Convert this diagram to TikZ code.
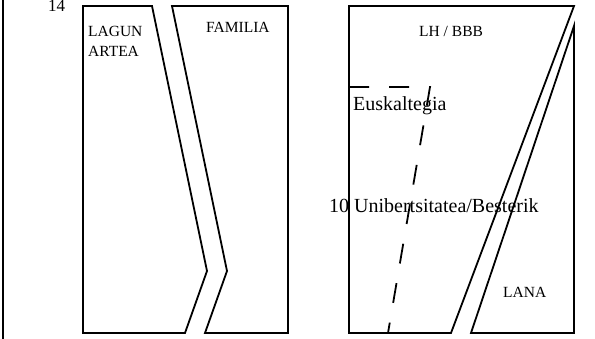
\documentclass[tikz,border=0pt]{standalone}
\usepackage{fontspec}
\setmainfont{Liberation Serif}
\usepackage{tikz}
\usetikzlibrary{positioning}

\tikzset{
  wall/.style={line width=1.8pt, line join=miter},
  lbl/.style={inner sep=0pt, anchor=base west, font=\fontsize{15.5}{20}\selectfont, align=left},
  biglbl/.style={inner sep=0pt, anchor=base west, font=\fontsize{20}{24}\selectfont},
}

\begin{document}
\begin{tikzpicture}[x=1pt,y=-1pt]

\useasboundingbox (0,0) rectangle (595,339);

\draw[line width=1.6pt] (3,0) -- (3,339); % side line

% left pair
\draw[wall] (83,6) -- (152,6) -- (207,271) -- (185,333) -- (83,333) -- cycle; % lagun artea
\draw[wall] (172,6) -- (288,6) -- (288,333) -- (205,333) -- (227,271) -- cycle; % familia

% right pair
\draw[wall] (349,6) -- (574,6) -- (451,333) -- (349,333) -- cycle; % lh / bbb
\draw[wall] (574,26) -- (574,333) -- (471,333) -- cycle; % lana

\draw[line width=1.8pt, dash pattern=on 20pt off 20pt] (349,87) -- (430,87) -- (388,333); % dashed split

\node[lbl] (num) at (48,12) {\fontsize{17}{20}\selectfont 14};
\node[lbl] (lagun) at (88,57) {LAGUN\\ARTEA};
\node[lbl] (familia) at (206,33) {FAMILIA};
\node[lbl] (lhbbb) at (419,37) {LH / BBB};
\node[lbl] (lana) at (503,298) {LANA};

\node[biglbl] (eusk) at (353,111) {Euskaltegia};
\node[biglbl] (unib) at (329,213) {10 Unibertsitatea/Besterik};

\end{tikzpicture}
\end{document}
